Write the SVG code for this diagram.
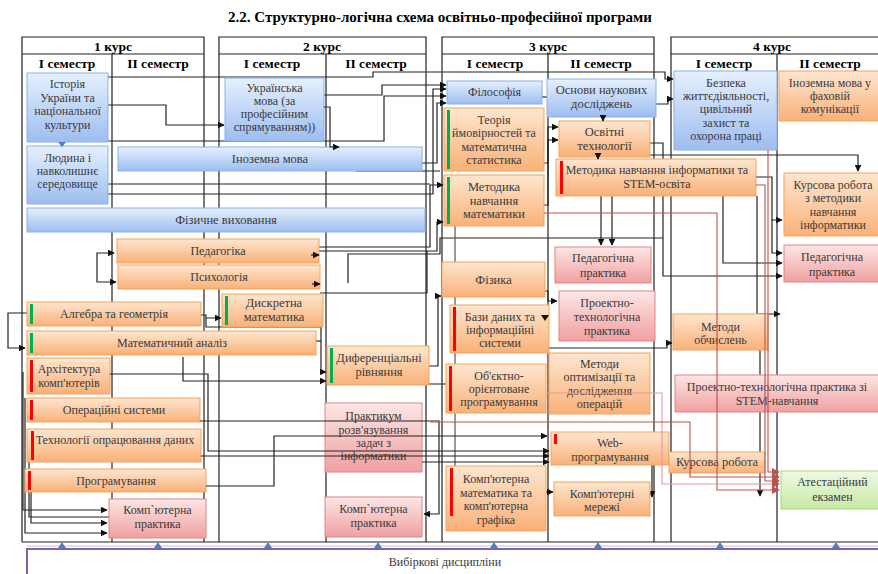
<svg xmlns="http://www.w3.org/2000/svg" width="878" height="574" viewBox="0 0 878 574">
<defs>
<linearGradient id="gb" x1="0" y1="0" x2="0" y2="1"><stop offset="0" stop-color="#e6f0fd"/><stop offset="1" stop-color="#9dbdf0"/></linearGradient>
<linearGradient id="go" x1="0" y1="0" x2="0" y2="1"><stop offset="0" stop-color="#fde6d0"/><stop offset="1" stop-color="#f9b178"/></linearGradient>
<linearGradient id="gp" x1="0" y1="0" x2="0" y2="1"><stop offset="0" stop-color="#fde6e6"/><stop offset="1" stop-color="#f0a0a0"/></linearGradient>
<linearGradient id="gg" x1="0" y1="0" x2="0" y2="1"><stop offset="0" stop-color="#f0f9e4"/><stop offset="1" stop-color="#c6e8a4"/></linearGradient>
<marker id="ah" viewBox="0 0 10 10" refX="9" refY="5" markerWidth="7" markerHeight="7" markerUnits="userSpaceOnUse" orient="auto-start-reverse"><path d="M0,0 L10,5 L0,10 z" fill="#111"/></marker>
<marker id="ar" viewBox="0 0 10 10" refX="9" refY="5" markerWidth="8" markerHeight="8" markerUnits="userSpaceOnUse" orient="auto"><path d="M0,0 L10,5 L0,10 z" fill="#c0504d"/></marker>
</defs>
<style>
.t{font-family:"Liberation Serif","Times New Roman",serif;font-size:12px;fill:#3a3a3a;text-anchor:middle}
.tl{font-size:12.5px}
.h{font-family:"Liberation Serif","Times New Roman",serif;font-size:13.5px;font-weight:bold;fill:#000;text-anchor:middle}
.b{fill:url(#gb);stroke:#8db0e6;stroke-width:1}
.o{fill:url(#go);stroke:#f6a35b;stroke-width:1}
.p{fill:url(#gp);stroke:#e08585;stroke-width:1}
.g{fill:url(#gg);stroke:#a6d77c;stroke-width:1}
.gl{fill:none;stroke:#222;stroke-width:1.2}
.c{fill:none;stroke:#222;stroke-width:1.2}
.cr{fill:none;stroke:#c0504d;stroke-width:1.1}
.bg{fill:#00b050}
.br{fill:#ff0000}
.ua{fill:#4f81bd}
</style>
<rect width="878" height="574" fill="#fff"/>
<text x="440" y="22" class="h" style="font-size:15px">2.2.  Структурно-логічна схема освітньо-професійної програми</text>

<g id="grid">
<path class="gl" d="M22,542 V37 H204 V542 M22,54 H204 M112,54 V542"/>
<path class="gl" d="M219,542 V37 H426 V542 M219,54 H426 M326,54 V542"/>
<path class="gl" d="M442,542 V37 H654 V542 M442,54 H654 M548,54 V542"/>
<path class="gl" d="M671,542 V37 H880 M671,54 H880 M777,54 V542"/>
<path class="gl" d="M22,542 H878"/>
<text x="113" y="51" class="h">1 курс</text>
<text x="67" y="68" class="h">I семестр</text>
<text x="158" y="68" class="h">II семестр</text>
<text x="322" y="51" class="h">2 курс</text>
<text x="272" y="68" class="h">I семестр</text>
<text x="376" y="68" class="h">II семестр</text>
<text x="548" y="51" class="h">3 курс</text>
<text x="495" y="68" class="h">I семестр</text>
<text x="601" y="68" class="h">II семестр</text>
<text x="772" y="51" class="h">4 курс</text>
<text x="724" y="68" class="h">I семестр</text>
<text x="830" y="68" class="h">II семестр</text>
</g>

<g id="connectors">
<path class="c" d="M108,105 H166 V125 H224" marker-end="url(#ah)"/>
<path class="c" d="M108,77 H373 V72 H665 V79 H673" marker-end="url(#ah)"/>
<path class="c" d="M108,141 H384 V96 H446" marker-end="url(#ah)"/>
<path class="c" d="M324,95 H382 V85 H446" marker-end="url(#ah)"/>
<path class="c" d="M422,163 H437 V103 H446" marker-end="url(#ah)"/>
<path class="c" d="M108,184 H430"/>
<path class="c" d="M105,194 H433 V89 H446" marker-end="url(#ah)"/>
<path class="c" d="M356,171 H440"/>
<path class="c" d="M319,247 H430 V185 H443" marker-end="url(#ah)"/>
<path class="c" d="M319,251 H437 V222 H443" marker-end="url(#ah)"/>
<path class="c" d="M348,283 V254 H440 V238 H663"/>
<path class="c" d="M320,293 H427 V251"/>
<path class="c" d="M542,97 H547"/>
<path class="c" d="M656,104 H668 V99 H673" marker-end="url(#ah)"/>
<path class="c" d="M544,163 H548 V127 H558" marker-end="url(#ah)"/>
<path class="c" d="M544,205 H548 V140 H558" marker-end="url(#ah)"/>
<path class="c" d="M650,143 H663 V276 H782" marker-end="url(#ah)"/>
<path class="c" d="M650,155 H858 V171" marker-end="url(#ah)"/>
<path class="c" d="M756,177 H772 V220 H782" marker-end="url(#ah)"/>
<path class="c" d="M772,220 V253 H782" marker-end="url(#ah)"/>
<path class="c" d="M723,196 V263 H782" marker-end="url(#ah)"/>
<path class="c" d="M757,196 V314 H780" marker-end="url(#ah)"/>
<path class="c" d="M601,196 V245" marker-end="url(#ah)"/>
<path class="c" d="M612,196 V245" marker-end="url(#ah)"/>
<path class="c" d="M114,253 H97 V282 H116" marker-start="url(#ah)" marker-end="url(#ah)"/>
<path class="c" d="M201,315 H206 V318 H221" marker-end="url(#ah)"/>
<path class="c" d="M206,318 V327 H321 V372 H326" marker-end="url(#ah)"/>
<path class="c" d="M316,341 H321"/>
<path class="c" d="M27,313 H8 V348 H25" marker-end="url(#ah)"/>
<path class="c" d="M183,357 V381 H326" marker-end="url(#ah)"/>
<path class="c" d="M429,366 H438 V296 H441" marker-end="url(#ah)"/>
<path class="c" d="M388,384 H446"/>
<path class="c" d="M545,291 H548 V301 H557" marker-end="url(#ah)"/>
<path class="c" d="M549,348 H667 V343 H672" marker-end="url(#ah)"/>
<path class="c" d="M760,349 V496" marker-end="url(#ah)"/>
<path class="c" d="M645,434 H652 V497" marker-end="url(#ah)"/>
<path class="c" d="M546,492 H553" marker-end="url(#ah)"/>
<path class="c" d="M23,372 V510 H107" marker-end="url(#ah)"/>
<path class="c" d="M25,398 V533 H107" marker-end="url(#ah)"/>
<path class="c" d="M29,462 V517 H109"/>
<path class="c" d="M31,492 V523 H107" marker-end="url(#ah)"/>
<path class="c" d="M455,226 V466" style="stroke:#555"/>
</g>

<g id="n-istoriia"><rect class="b" x="27" y="73" width="81" height="69"/><text class="t"><tspan x="67.5" y="88">Історія</tspan><tspan x="67.5" y="102">України та</tspan><tspan x="67.5" y="115">національної</tspan><tspan x="67.5" y="129">культури</tspan></text></g>
<g id="n-liudyna"><rect class="b" x="27" y="146" width="81" height="58"/><text class="t"><tspan x="67.5" y="162">Людина і</tspan><tspan x="67.5" y="175">навколишнє</tspan><tspan x="67.5" y="188">середовище</tspan></text></g>
<polygon class="ua" points="58,142 66,142 62,147"/>
<g id="n-inozemna"><rect class="b" x="118" y="147" width="304" height="24"/><text class="t tl" x="270" y="163">Іноземна мова</text></g>
<g id="n-fizvykh"><rect class="b" x="27" y="208" width="398" height="24"/><text class="t tl" x="226" y="224">Фізичне виховання</text></g>
<g id="n-pedagogika"><rect class="o" x="117" y="239" width="202" height="24"/><text class="t" x="218" y="255">Педагогіка</text></g>
<g id="n-psykholohiia"><rect class="o" x="118" y="265" width="202" height="24"/><text class="t" x="219" y="281">Психологія</text></g>
<g id="n-alhebra"><rect class="o" x="27" y="302" width="174" height="24"/><rect class="bg" x="30" y="304" width="3" height="20"/><text class="t" x="114" y="318">Алгебра та геометрія</text></g>
<g id="n-matanaliz"><rect class="o" x="27" y="331" width="289" height="24"/><rect class="bg" x="30" y="333" width="3" height="20"/><text class="t" x="172" y="347">Математичний аналіз</text></g>
<g id="n-arkhitektura"><rect class="o" x="27" y="358" width="83" height="36"/><rect class="br" x="30" y="360" width="3" height="32"/><text class="t"><tspan x="69" y="373">Архітектура</tspan><tspan x="69" y="387">комп'ютерів</tspan></text></g>
<g id="n-os"><rect class="o" x="27" y="398" width="173" height="24"/><rect class="br" x="30" y="400" width="3" height="20"/><text class="t" x="114" y="414">Операційні системи</text></g>
<g id="n-tekhnolohii"><rect class="o" x="27" y="429" width="174" height="33"/><rect class="br" x="31" y="431" width="3" height="29"/><text class="t" x="115" y="444">Технології опрацювання даних</text></g>
<g id="n-prohramuvannia"><rect class="o" x="25" y="469" width="181" height="23"/><rect class="br" x="28" y="471" width="3" height="19"/><text class="t" x="116" y="485">Програмування</text></g>
<g id="n-kp1"><rect class="p" x="109" y="499" width="97" height="39"/><text class="t"><tspan x="157.5" y="514">Комп`ютерна</tspan><tspan x="157.5" y="528">практика</tspan></text></g>

<g id="n-ukrmova"><rect class="b" x="225" y="78" width="99" height="63"/><text class="t"><tspan x="274.5" y="92">Українська</tspan><tspan x="274.5" y="105">мова  (за</tspan><tspan x="274.5" y="118">професійним</tspan><tspan x="274.5" y="131">спрямуванням))</tspan></text></g>
<g id="n-dyskretna"><rect class="o" x="222" y="294" width="101" height="33"/><rect class="bg" x="225" y="296" width="3" height="29"/><text class="t tl"><tspan x="274" y="307">Дискретна</tspan><tspan x="274" y="321">математика</tspan></text></g>
<g id="n-dyfer"><rect class="o" x="327" y="346" width="102" height="39"/><rect class="bg" x="330" y="348" width="3" height="35"/><text class="t tl"><tspan x="379" y="362">Диференціальні</tspan><tspan x="379" y="376">рівняння</tspan></text></g>
<g id="n-praktykum"><rect class="p" x="325" y="403" width="97" height="69"/><text class="t"><tspan x="373.5" y="420">Практикум</tspan><tspan x="373.5" y="434">розв'язування</tspan><tspan x="373.5" y="447">задач з</tspan><tspan x="373.5" y="460">інформатики</tspan></text></g>
<g id="n-kp2"><rect class="p" x="325" y="497" width="97" height="40"/><text class="t"><tspan x="373.5" y="513">Комп`ютерна</tspan><tspan x="373.5" y="527">практика</tspan></text></g>

<g id="n-filosofiia"><rect class="b" x="447" y="81" width="95" height="23"/><text class="t" x="494.5" y="96">Філософія</text></g>
<g id="n-osnovy"><rect class="b" x="547" y="79" width="109" height="38"/><text class="t tl"><tspan x="601.5" y="94">Основи наукових</tspan><tspan x="601.5" y="108">досліджень</tspan></text></g>
<g id="n-teoriia"><rect class="o" x="444" y="108" width="100" height="63"/><rect class="bg" x="447" y="110" width="3" height="59"/><text class="t"><tspan x="494" y="124">Теорія</tspan><tspan x="494" y="137">ймовірностей та</tspan><tspan x="494" y="151">математична</tspan><tspan x="494" y="164">статистика</tspan></text></g>
<g id="n-metmat"><rect class="o" x="444" y="175" width="100" height="51"/><rect class="bg" x="447" y="177" width="3" height="47"/><text class="t tl"><tspan x="494" y="191">Методика</tspan><tspan x="494" y="204.5">навчання</tspan><tspan x="494" y="218">математики</tspan></text></g>
<g id="n-osvitni"><rect class="o" x="559" y="121" width="91" height="36"/><text class="t tl"><tspan x="604.5" y="136">Освітні</tspan><tspan x="604.5" y="150">технології</tspan></text></g>
<g id="n-metinf"><rect class="o" x="556" y="159" width="200" height="37"/><rect class="br" x="560" y="161" width="3" height="33"/><text class="t"><tspan x="657" y="174">Методика навчання інформатики та</tspan><tspan x="657" y="188">STEM-освіта</tspan></text></g>
<g id="n-pedpr3"><rect class="p" x="555" y="247" width="96" height="36"/><text class="t"><tspan x="603" y="262">Педагогічна</tspan><tspan x="603" y="277">практика</tspan></text></g>
<g id="n-fizyka"><rect class="o" x="442" y="262" width="103" height="35"/><text class="t tl" x="493.5" y="284">Фізика</text></g>
<g id="n-prtekh"><rect class="p" x="559" y="291" width="96" height="50"/><text class="t"><tspan x="607" y="307">Проектно-</tspan><tspan x="607" y="321">технологічна</tspan><tspan x="607" y="335">практика</tspan></text></g>
<g id="n-bazy"><rect class="o" x="450" y="305" width="99" height="48"/><rect class="br" x="453" y="307" width="3" height="44"/><text class="t"><tspan x="500" y="321">Бази даних та</tspan><tspan x="500" y="334">інформаційні</tspan><tspan x="500" y="347">системи</tspan></text><polygon points="541,315 549,315 545,321" fill="#111"/></g>
<g id="n-oop"><rect class="o" x="446" y="364" width="100" height="49"/><rect class="br" x="449" y="366" width="3" height="45"/><text class="t"><tspan x="499" y="380">Об'єктно-</tspan><tspan x="499" y="393">орієнтоване</tspan><tspan x="499" y="406">програмування</tspan></text></g>
<g id="n-metopt"><rect class="o" x="549" y="353" width="101" height="61"/><text class="t"><tspan x="599.5" y="368">Методи</tspan><tspan x="599.5" y="381">оптимізації та</tspan><tspan x="599.5" y="395">дослідження</tspan><tspan x="599.5" y="408">операцій</tspan></text></g>
<g id="n-web"><rect class="o" x="551" y="432" width="118" height="33"/><rect class="br" x="554" y="434" width="3" height="10"/><text class="t"><tspan x="610" y="447">Web-</tspan><tspan x="610" y="461">програмування</tspan></text></g>
<g id="n-kompmat"><rect class="o" x="446" y="466" width="100" height="65"/><rect class="br" x="450" y="468" width="3" height="48"/><text class="t"><tspan x="496" y="483">Комп'ютерна</tspan><tspan x="496" y="497">математика та</tspan><tspan x="496" y="510">комп'ютерна</tspan><tspan x="496" y="524">графіка</tspan></text></g>
<g id="n-merezhi"><rect class="o" x="554" y="482" width="96" height="34"/><text class="t"><tspan x="602" y="498">Комп'ютерні</tspan><tspan x="602" y="511">мережі</tspan></text></g>

<g id="n-bezpeka"><rect class="b" x="674" y="71" width="103" height="79"/><text class="t"><tspan x="726" y="87">Безпека</tspan><tspan x="726" y="100">життєдіяльності,</tspan><tspan x="726" y="113">цивільний</tspan><tspan x="726" y="127">захист та</tspan><tspan x="726" y="140">охорона праці</tspan></text></g>
<g id="n-inozfakh"><rect class="o" x="779" y="71" width="102" height="50"/><text class="t"><tspan x="830" y="87">Іноземна мова у</tspan><tspan x="830" y="100">фаховій</tspan><tspan x="830" y="113">комунікації</tspan></text></g>
<g id="n-kursmet"><rect class="o" x="784" y="173" width="98" height="63"/><text class="t"><tspan x="833" y="189">Курсова робота</tspan><tspan x="833" y="202">з методики</tspan><tspan x="833" y="216">навчання</tspan><tspan x="833" y="229">інформатики</tspan></text></g>
<g id="n-pedpr4"><rect class="p" x="784" y="245" width="98" height="37"/><text class="t"><tspan x="832" y="261">Педагогічна</tspan><tspan x="832" y="276">практика</tspan></text></g>
<g id="n-metobch"><rect class="o" x="673" y="314" width="95" height="36"/><text class="t"><tspan x="720.5" y="331">Методи</tspan><tspan x="720.5" y="344">обчислень</tspan></text></g>
<g id="n-prstem"><rect class="p" x="675" y="375" width="206" height="37"/><text class="t"><tspan x="777" y="391">Проектно-технологічна практика зі</tspan><tspan x="777" y="405">STEM-навчання</tspan></text></g>
<g id="n-kursova"><rect class="o" x="669" y="452" width="96" height="21"/><text class="t tl" x="717" y="466">Курсова робота</text></g>
<g id="n-atest"><rect class="g" x="781" y="471" width="102" height="38"/><text class="t"><tspan x="832.5" y="486">Атестаційний</tspan><tspan x="832.5" y="501">екзамен</tspan></text></g>

<g id="connectors-front">
<path class="c" d="M324,107 H330 V147 H339" marker-end="url(#ah)"/>
<path class="c" d="M603,115 V121" marker-end="url(#ah)"/>
<path class="c" d="M598,155 V159" marker-end="url(#ah)"/>
<path class="c" d="M311,255 H319" marker-end="url(#ah)"/>
<path class="c" d="M312,284 H320" marker-end="url(#ah)"/>
<path class="c" d="M110,374 H208 V451 H549" marker-end="url(#ah)"/>
<path class="c" d="M201,456 H549" marker-end="url(#ah)"/>
<path class="c" d="M206,486 H274 V436 H547" marker-end="url(#ah)"/>
<path class="c" d="M200,421 H439 V514 H424" marker-end="url(#ah)"/>
<path class="c" d="M422,462 H549" marker-end="url(#ah)"/>
<path class="cr" d="M544,213 H717 V490 H779" marker-end="url(#ar)"/>
<path class="cr" d="M546,393 H662 V484 H779" style="stroke:#e39a9a" marker-end="url(#ar)"/>
<path class="cr" d="M430,422 H690 V477 H779" marker-end="url(#ar)"/>
<path class="cr" d="M768,150 V472 H779" marker-end="url(#ar)"/>
<path class="cr" d="M756,185 H765 V481 H779" marker-end="url(#ar)"/>
</g>

<g id="n-vybirkovi">
<rect x="27" y="549" width="862" height="32" fill="#fff" stroke="#8064a2" stroke-width="2"/>
<line x1="27" y1="546" x2="878" y2="546" stroke="#c9bde0" stroke-width="1"/>
<text class="t" x="445" y="566">Вибіркові дисципліни</text>
<g class="ua">
<polygon points="58,548 66,548 62,542"/><polygon points="154,548 162,548 158,542"/>
<polygon points="264,548 272,548 268,542"/><polygon points="374,548 382,548 378,542"/>
<polygon points="490,548 498,548 494,542"/><polygon points="594,548 602,548 598,542"/>
<polygon points="716,548 724,548 720,542"/><polygon points="832,548 840,548 836,542"/>
</g>
</g>
</svg>
